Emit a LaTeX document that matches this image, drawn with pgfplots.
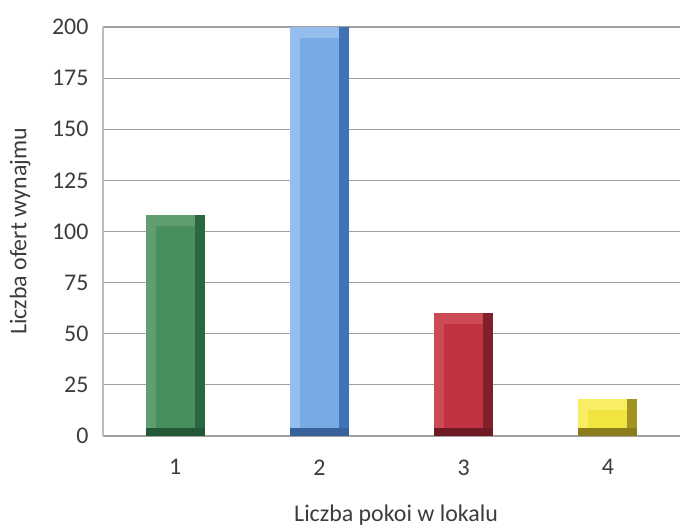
\documentclass[border=0pt]{standalone}
\usepackage{pgfplots}
\pgfplotsset{compat=1.18}
\usepackage{fontspec}
\setmainfont{Carlito}
\definecolor{txt}{RGB}{60,60,60}
\definecolor{gridc}{RGB}{160,160,160}
% green
\definecolor{gM}{RGB}{72,142,94}
\definecolor{gL}{RGB}{96,158,114}
\definecolor{gD}{RGB}{42,102,64}
% blue
\definecolor{bM}{RGB}{122,170,230}
\definecolor{bL}{RGB}{148,190,238}
\definecolor{bD}{RGB}{64,114,182}
% red
\definecolor{rM}{RGB}{194,50,64}
\definecolor{rL}{RGB}{204,74,86}
\definecolor{rD}{RGB}{130,32,42}
% yellow
\definecolor{yM}{RGB}{242,228,62}
\definecolor{yL}{RGB}{248,238,100}
\definecolor{yD}{RGB}{162,146,34}
\newcommand\bevelbar[6]{%
  \addplot[draw=none, fill=#3, bar width=59bp, bar shift=0bp] coordinates {(#1,#2)};
  \addplot[draw=none, fill=#4, bar width=49bp, bar shift=-5bp] coordinates {(#1,#2)};
  \addplot[draw=none, fill=#5, bar width=39bp, bar shift=0bp] coordinates {(#1,#6)};
  \addplot[draw=none, fill=#3!85!black, bar width=59bp, bar shift=0bp] coordinates {(#1,4)};
}
\begin{document}
\begin{tikzpicture}
\useasboundingbox (-103bp,-95bp) rectangle (577bp,436bp);
\begin{axis}[
  at={(0,0)}, anchor=south west,
  scale only axis, width=577bp, height=409bp,
  ymin=0, ymax=200, xmin=0.5, xmax=4.5,
  ytick={0,25,...,200}, xtick={1,2,3,4},
  ymajorgrids, grid style={gridc, line width=1.1pt},
  axis line style={draw=none},
  axis x line*=bottom, axis y line*=left,
  major tick length=0pt,
  ticklabel style={font=\fontsize{24}{26}\selectfont, text=txt},
  /pgf/number format/assume math mode=true,
  ylabel={Liczba ofert wynajmu}, xlabel={Liczba pokoi w lokalu},
  label style={font=\fontsize{24}{26}\selectfont, text=txt},
  xlabel style={at={(axis description cs:0.508,-0.193)}, anchor=center},
  ylabel style={at={(axis description cs:-0.1438,0.5)}, anchor=center},
  yticklabel style={xshift=-11bp},
  xticklabel style={yshift=-20bp},
  ybar,
  clip=false,
]
\draw[gridc!70, line width=1.1pt] (axis cs:0.5,0) -- (axis cs:0.5,200);
\bevelbar{1}{108}{gD}{gL}{gM}{102.6}
\bevelbar{2}{200}{bD}{bL}{bM}{194.6}
\bevelbar{3}{60}{rD}{rL}{rM}{54.6}
\bevelbar{4}{18}{yD}{yL}{yM}{12.6}
\end{axis}
\end{tikzpicture}
\end{document}
